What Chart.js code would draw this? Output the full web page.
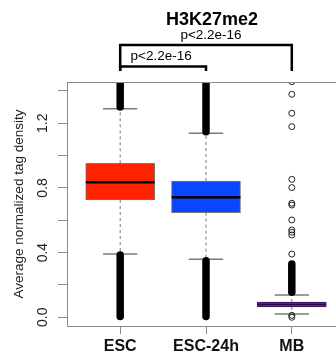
<!DOCTYPE html>
<html>
<head>
<meta charset="utf-8">
<script src="https://cdn.jsdelivr.net/npm/chart.js@4.4.0/dist/chart.umd.min.js"></script>
<style>
  html, body { margin: 0; padding: 0; background: #fff; overflow: hidden; }
  canvas { display: block; }
</style>
</head>
<body>
<canvas id="boxChart" width="350" height="364"></canvas>
<script>
const titleText = 'H3K27me2';
const groups = ['ESC', 'ESC-24h', 'MB'];
const boxColors = ['#ff2200', '#0a45ff', '#5c1f8e'];
const q1 = [0.725, 0.647, 0.064];
const medians = [0.835, 0.742, 0.079];
const q3 = [0.952, 0.843, 0.094];
const whiskerLow = [0.391, 0.359, 0.020];
const whiskerHigh = [1.29, 1.138, 0.138];
// outliers packed so tight they print as a solid column: [from, to]
const denseLow = [[0.005, 0.385], [0.005, 0.35], null];
const denseHigh = [[1.30, 1.6], [1.148, 1.6], [0.155, 0.33]];
// the MB outliers that can still be told apart
const mbOutliers = [1.457, 1.379, 1.262, 1.179, 0.853, 0.802, 0.705, 0.694, 0.602,
                    0.54, 0.526, 0.509, 0.391, 0.012, 0.0];

const yTicks = [0, 0.2, 0.4, 0.6, 0.8, 1.0, 1.2, 1.4];
const yTickLabels = ['0.0', '', '0.4', '', '0.8', '', '1.2', ''];

const comparisons = [
  { from: 1, to: 3, label: 'p<2.2e-16' },
  { from: 1, to: 2, label: 'p<2.2e-16' }
];

const FONT = '"Liberation Sans", Arial, sans-serif';
const BOX_HALF = 0.4;
const CAP_HALF = 0.2;
// the MB box is so thin its median only darkens it
const medianWidths = [2.5, 2.5, 1];
const medianColors = ['#000', '#000', '#2a0b45'];

function seg(x0, y0, x1, y1, style) {
  return Object.assign({
    type: 'line',
    data: [{ x: x0, y: y0 }, { x: x1, y: y1 }],
    pointRadius: 0,
    fill: false,
    clip: 0,
    order: 0
  }, style);
}

const datasets = [];

// medians on top
groups.forEach((g, i) => {
  const x = i + 1;
  datasets.push(seg(x - BOX_HALF, medians[i], x + BOX_HALF, medians[i],
    { borderColor: medianColors[i], borderWidth: medianWidths[i] }));
});

// dense outlier columns
groups.forEach((g, i) => {
  const x = i + 1;
  [denseLow[i], denseHigh[i]].forEach(r => {
    if (!r) return;
    datasets.push(seg(x, r[0], x, r[1],
      { borderColor: '#000', borderWidth: 7.5, borderCapStyle: 'round' }));
  });
});

// single outliers
datasets.push({
  type: 'line',
  showLine: false,
  data: mbOutliers.map(v => ({ x: 3, y: v })),
  pointRadius: 3,
  pointBorderWidth: 1,
  pointBorderColor: '#222',
  pointBackgroundColor: 'rgba(0,0,0,0)',
  clip: 0,
  order: 0
});

// caps and whiskers
groups.forEach((g, i) => {
  const x = i + 1;
  datasets.push(seg(x - CAP_HALF, whiskerLow[i], x + CAP_HALF, whiskerLow[i],
    { borderColor: '#7a7a7a', borderWidth: 1.5 }));
  datasets.push(seg(x - CAP_HALF, whiskerHigh[i], x + CAP_HALF, whiskerHigh[i],
    { borderColor: '#7a7a7a', borderWidth: 1.5 }));
  datasets.push(seg(x, q1[i], x, whiskerLow[i],
    { borderColor: '#777', borderWidth: 1, borderDash: [3, 3] }));
  datasets.push(seg(x, q3[i], x, whiskerHigh[i],
    { borderColor: '#777', borderWidth: 1, borderDash: [3, 3] }));
});

// boxes underneath everything
datasets.push({
  type: 'bar',
  data: groups.map((g, i) => ({ x: i + 1, y: [q1[i], q3[i]] })),
  backgroundColor: boxColors,
  borderColor: ['#777', '#777', '#3a1260'],
  borderWidth: 1,
  borderSkipped: false,
  barThickness: 69,
  order: 1
});

const annotate = {
  id: 'annotate',
  afterDraw(chart) {
    const { ctx, chartArea: a, scales: { x } } = chart;
    ctx.save();

    // frame round the plot
    ctx.strokeStyle = '#8a8a8a';
    ctx.lineWidth = 1;
    ctx.strokeRect(a.left + 0.5, a.top + 0.5, a.right - a.left, a.bottom - a.top);

    ctx.fillStyle = '#000';
    ctx.textAlign = 'center';
    ctx.textBaseline = 'middle';
    ctx.font = 'bold 18px ' + FONT;
    ctx.fillText(titleText, x.getPixelForValue(2.07), 20);

    // significance brackets
    const lift = [37, 15.5];
    const labelShift = [5, -2];
    const legBottom = a.top - 11;
    ctx.strokeStyle = '#000';
    ctx.lineWidth = 2.5;
    ctx.font = '13.5px ' + FONT;
    comparisons.forEach((c, k) => {
      const x0 = x.getPixelForValue(c.from);
      const x1 = x.getPixelForValue(c.to);
      const top = a.top - lift[k];
      ctx.beginPath();
      ctx.moveTo(x0, legBottom);
      ctx.lineTo(x0, top);
      ctx.lineTo(x1, top);
      ctx.lineTo(x1, legBottom);
      ctx.stroke();
      ctx.fillText(c.label, (x0 + x1) / 2 + labelShift[k], top - 10);
    });

    ctx.restore();
  }
};

const ctx = document.getElementById('boxChart').getContext('2d');
new Chart(ctx, {
  type: 'bar',
  data: { datasets: datasets },
  plugins: [annotate],
  options: {
    responsive: false,
    animation: false,
    events: [],
    layout: { padding: { top: 82, right: 4, left: 0, bottom: 0 } },
    plugins: {
      legend: { display: false },
      tooltip: { enabled: false }
    },
    scales: {
      x: {
        type: 'linear',
        offset: false,
        min: 0.38,
        max: 3.62,
        afterBuildTicks: s => { s.ticks = groups.map((g, i) => ({ value: i + 1 })); },
        afterFit: s => { s.height = 38; },
        ticks: {
          callback: (v, i) => groups[i],
          font: { family: FONT, size: 16, weight: 'bold' },
          color: '#111',
          padding: 3,
          maxRotation: 0,
          autoSkip: false
        },
        grid: { offset: false, drawOnChartArea: false, tickLength: 8, color: '#888' },
        border: { display: false }
      },
      y: {
        min: -0.054,
        max: 1.455,
        afterBuildTicks: s => { s.ticks = yTicks.map(v => ({ value: v })); },
        afterFit: s => { s.width = 67; },
        ticks: {
          callback: (v, i) => yTickLabels[i],
          minRotation: 90,
          maxRotation: 90,
          crossAlign: 'center',
          padding: 5,
          font: { family: FONT, size: 14 },
          color: '#222',
          autoSkip: false
        },
        grid: { drawOnChartArea: false, tickLength: 9, color: '#888' },
        border: { display: false },
        title: {
          display: true,
          text: 'Average normalized tag density',
          font: { family: FONT, size: 13.5 },
          color: '#222',
          padding: { top: 11, bottom: 0 }
        }
      }
    }
  }
});
</script>
</body>
</html>
